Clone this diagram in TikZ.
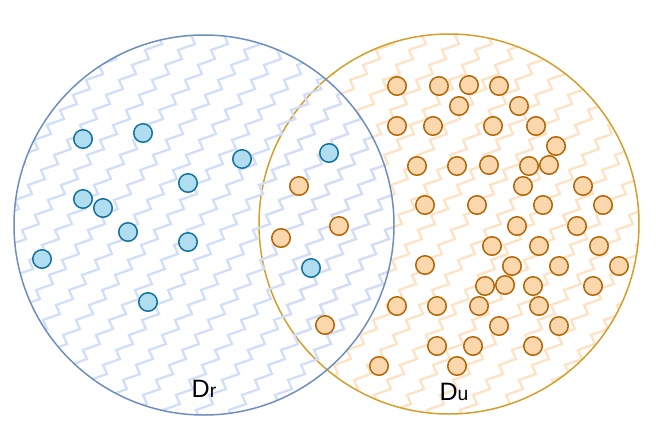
\documentclass[tikz,border=0pt]{standalone}
\usepackage{fontspec}
\setmainfont{Liberation Sans}
\definecolor{rline}{HTML}{6C8EBF}
\definecolor{rzig}{RGB}{208,222,250}
\definecolor{rfill}{HTML}{B1DDF0}
\definecolor{rdraw}{HTML}{10739E}
\definecolor{uline}{RGB}{212,158,44}
\definecolor{uzig}{RGB}{254,226,196}
\definecolor{ufill}{HTML}{FAD7AC}
\definecolor{udraw}{HTML}{B46504}
\tikzset{
	rdot/.style={circle, draw=rdraw, fill=rfill, line width=0.85pt, minimum size=0.37cm, inner sep=0pt},
	udot/.style={circle, draw=udraw, fill=ufill, line width=0.85pt, minimum size=0.37cm, inner sep=0pt},
	zig/.style={line width=1.3pt, line join=miter},
}
\begin{document}
\begin{tikzpicture}[x=0.02cm, y=-0.02cm, line join=round, line cap=round]
			\useasboundingbox (0,0) rectangle (656,430);
			\coordinate (R) at (204,225);
			\coordinate (U) at (449,224);
			% D_u: zigzag fill and outline
			\begin{scope}
				\clip (U) circle (190);
				\foreach \k in {-12,...,20}
					\draw[zig, uzig] ({33*\k+5},440) \foreach \s in {1,...,30}{ -- ++(17,-6) -- ++(-4,-9) };
			\end{scope}
			\draw[uline, line width=0.85pt] (U) circle (190);
			% D_r: zigzag fill and outline
			\begin{scope}
				\clip (R) circle (190);
				\foreach \k in {-12,...,20}
					\draw[zig, rzig] ({33*\k+5},440) \foreach \s in {1,...,30}{ -- ++(17,-6) -- ++(-4,-9) };
			\end{scope}
			\draw[rline, line width=0.85pt] (R) circle (190);
			% samples
			\foreach \p [count=\n] in {(83,139),(143,133),(242,159),(188,183),(83,199),(103,208),(128,232),(188,242),(42,259),(148,302),(329,153),(311,268)}
				\node[rdot] (r\n) at \p {};
			\foreach \p [count=\n] in {(397,86),(439,86),(469,85),(499,86),(459,106),(519,106),(397,126),(433,126),(493,126),(536,126),(556,146),(417,166),(457,166),(489,165),(529,166),(549,165),(299,186),(523,186),(583,186),(425,205),(477,205),(543,205),(603,205),(339,226),(281,238),(517,226),(577,226),(492,246),(539,246),(599,246),(425,265),(512,266),(559,266),(619,266),(485,286),(505,285),(533,286),(593,286),(397,306),(437,306),(479,306),(539,306),(325,325),(499,326),(559,326),(437,346),(473,346),(533,346),(379,366),(457,366)}
				\node[udot] (u\n) at \p {};
			\node[anchor=base] (dr) at (204,397) {\fontsize{14.3}{16}\selectfont D\fontsize{11}{13}\selectfont r};
			\node[anchor=base] (du) at (454,400) {\fontsize{14.3}{16}\selectfont D\fontsize{11}{13}\selectfont u};
		\end{tikzpicture}
\end{document}
